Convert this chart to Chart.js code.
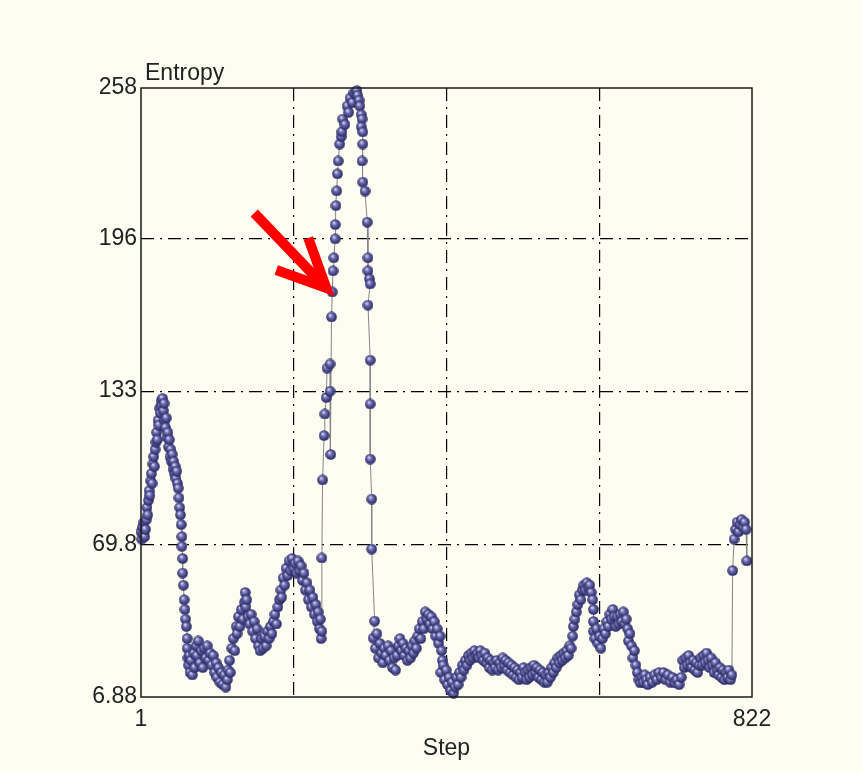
<!DOCTYPE html>
<html>
<head>
<meta charset="utf-8">
<script src="https://cdn.jsdelivr.net/npm/chart.js@4.4.0/dist/chart.umd.min.js"></script>
<style>
    html, body { margin: 0; padding: 0; background: #fdfdf2; }
    #entropy-chart { display: block; }
</style>
</head>
<body>
<canvas id="entropy-chart" width="862" height="772"></canvas>
<script>
// step / entropy pairs (same line = same points)
const steps = [
    1, 2, 3, 4, 5, 6, 7, 8, 9, 10,
    11, 12, 13, 14, 15, 16, 17, 18, 19, 20,
    21, 22, 23, 24, 25, 26, 27, 28, 29, 30,
    31, 32, 33, 34, 35, 36, 37, 38, 39, 40,
    41, 42, 43, 44, 45, 46, 47, 48, 49, 50,
    51, 52, 53, 54, 55, 56, 56, 57, 57, 58,
    59, 60, 61, 62, 63, 63, 64, 65, 66, 67,
    68, 70, 72, 73, 75, 76, 78, 80, 82, 84,
    86, 88, 90, 92, 94, 96, 98, 100, 102, 103,
    105, 107, 109, 111, 113, 115, 117, 118, 120, 121,
    123, 125, 127, 129, 130, 132, 134, 136, 138, 140,
    141, 142, 143, 145, 147, 149, 151, 153, 155, 157,
    159, 161, 163, 165, 167, 169, 171, 173, 175, 177,
    179, 181, 183, 185, 187, 189, 190, 192, 194, 196,
    198, 200, 202, 204, 206, 208, 210, 212, 214, 216,
    218, 220, 222, 224, 226, 228, 230, 232, 234, 236,
    238, 239, 241, 242, 243, 244,
    244, 245, 247, 248, 250, 251, 255, 255, 256, 257,
    258, 259, 260, 262, 262, 263, 264, 265, 266, 268,
    270, 271, 272, 275, 278, 280, 282, 285, 287, 289,
    291, 292, 294, 295, 297, 298, 297, 299, 299, 298,
    299, 302, 305, 306, 306, 308, 309, 306, 309, 309,
    309, 311, 311, 315, 313,
    316, 318, 320, 322, 324, 326, 328, 330, 333, 335,
    337, 339, 341, 343, 345, 347, 349, 351, 353, 355,
    357, 359, 361, 363, 365, 367, 369, 371, 373, 375,
    377, 379, 381, 383, 385, 387, 389, 391, 393, 395,
    397, 399, 401, 403, 405, 406, 404, 407, 409, 411,
    413, 415, 417, 419, 421, 423, 425, 427, 429, 431,
    433, 435, 437, 439, 441, 443, 445, 447, 449, 451,
    453, 455, 457, 459, 461, 463, 465, 467, 469, 471,
    473, 475, 477, 479, 481, 483, 485, 487, 489, 491,
    493, 495, 497, 499, 501, 503, 505, 507, 509, 511,
    513, 515, 517, 519, 521, 523, 525, 527, 529, 531,
    533, 535, 537, 539, 541, 543, 545, 547, 549, 551,
    553, 555, 557, 559, 561, 563, 565, 567, 569, 571,
    573, 575, 577, 579, 581, 582, 584, 586, 588, 590,
    592, 594, 596, 598, 600, 602, 604, 606, 608, 609,
    609, 609, 611, 613, 615, 617, 619, 621, 623, 625,
    627, 629, 631, 633, 635, 637, 639, 641, 643, 645,
    647, 649, 651, 653, 655, 656, 658, 660, 662, 664,
    666, 668, 670, 672, 674, 676, 678, 680, 682, 685,
    688, 691, 694, 697, 700, 703, 706, 709, 712, 715,
    718, 721, 724, 727, 729, 731, 733, 735, 737, 739,
    741, 743, 745, 747, 749, 751, 753, 755, 757, 759,
    761, 763, 765, 767, 769, 771, 773, 775, 777, 779,
    781, 783, 785, 787, 789, 791, 793, 795, 796, 798,
    800, 802, 804, 806, 808, 810, 812, 814, 815
];
const entropy = [
    75, 72, 77, 74, 79, 73, 76, 80, 85, 82,
    88, 92, 90, 96, 99, 95, 103, 106, 102, 109,
    112, 116, 113, 121, 119, 126, 124, 129, 127, 130,
    125, 128, 121, 118, 122, 114, 116, 110, 113, 106,
    109, 104, 107, 101, 104, 99, 102, 97, 100, 95,
    93, 89, 85, 82, 78, 73, 69, 64, 58, 53,
    47, 43, 39, 36, 31, 27, 23, 20, 24, 17,
    22, 16, 25, 19, 28, 24, 30, 21, 26, 19,
    27, 23, 28, 22, 25, 20, 24, 17, 21, 15,
    19, 13, 17, 12, 16, 11, 14, 18, 22, 17,
    27, 31, 26, 36, 33, 40, 36, 43, 39, 46,
    50, 44, 47, 40, 37, 41, 34, 38, 31, 35,
    28, 26, 31, 27, 32, 28, 34, 31, 36, 33,
    38, 41, 37, 44, 47, 51, 48, 56, 53, 60,
    57, 63, 59, 64, 60, 62, 58, 63, 59, 61,
    55, 58, 51, 54, 47, 51, 44, 48, 41, 45,
    38, 42, 35, 39, 31, 34,
    64.2, 96.4, 114.7, 123.6, 130.4, 142.5, 144.2, 133, 106.9, 163.6,
    173.9, 182.6, 188, 195.8, 201.7, 209.5, 215.6, 222.6, 227.9, 234.9,
    238, 240, 245.2, 243, 250.6, 248, 253.9, 252, 256, 255.5,
    257, 255, 253, 250.6, 247, 245.2, 242, 239.9, 234.9, 227.9,
    219.2, 215.5, 202.7, 188, 182.6, 179.3, 177.2, 168.5, 145.8, 127.7,
    105, 88.5, 67.9, 38.2, 31.2,
    27, 33, 23, 29, 25, 21, 27, 24, 28, 22,
    26, 19, 23, 18, 24, 28, 31, 26, 29, 24,
    27, 22, 26, 23, 28, 25, 30, 27, 32, 35,
    31, 38, 35, 42, 39, 41, 37, 40, 35, 38,
    32, 35, 29, 32, 26, 22, 17, 20, 14, 18,
    12, 15, 9.5, 13, 8.5, 11, 15, 12, 17, 15,
    20, 18, 22, 20, 24, 22, 25, 23, 26, 24,
    25, 23, 26, 24, 22, 25, 21, 23, 19, 22,
    18, 21, 19, 22, 18, 21, 19, 23, 20, 22,
    18, 21, 17, 20, 16, 19, 15, 18, 14, 17,
    15, 19, 17, 14, 18, 15, 19, 16, 20, 17,
    19, 15, 18, 14, 17, 13, 16, 13, 17, 15,
    19, 17, 21, 19, 23, 21, 24, 22, 25, 23,
    26, 24, 28, 27, 32, 36, 39, 42, 45, 49,
    47, 51, 53, 51, 54, 52, 53, 50, 47, 43,
    38, 34, 31, 35, 29, 32, 27, 31, 35, 33,
    38, 36, 41, 39, 43, 40, 36, 40, 37, 41,
    38, 42, 37, 39, 35, 30, 33, 28, 23, 26,
    20, 17, 14, 12.7, 15, 13, 16, 14, 12, 15,
    13, 16, 14, 17, 15, 17, 14, 16, 13, 15,
    12.7, 14, 12, 15, 22, 19, 23, 20, 24, 21,
    19, 22, 18, 21, 17, 20, 23, 20, 24, 21,
    25, 22, 19, 23, 20, 17, 21, 18, 16, 19,
    15, 18, 14, 17, 15, 18, 14, 16, 59, 72,
    76, 79, 75, 78, 80, 77, 79, 76, 63
];
const xTickValues = [1, 206.25, 411.5, 616.75, 822];
const xTickLabels = ['1', '', '', '', '822'];
const yTickValues = [6.88, 69.8, 133, 196, 258];
const yTickLabels = ['6.88', '69.8', '133', '196', '258'];
// the point the red arrow points at
const arrowStep = 258;
const arrowValue = 173.9;

const FONT = 'Liberation Sans, Arial, sans-serif';
const BG = '#fdfdf2';

// small shaded ball used as the point marker
const sphere = document.createElement('canvas');
sphere.width = 11;
sphere.height = 11;
const sctx = sphere.getContext('2d');
const grad = sctx.createRadialGradient(4, 3.6, 0.4, 5.5, 5.5, 5.5);
grad.addColorStop(0, '#d4d4f6');
grad.addColorStop(0.35, '#7070b0');
grad.addColorStop(0.75, '#3d3d80');
grad.addColorStop(1, '#252550');
sctx.fillStyle = grad;
sctx.beginPath();
sctx.arc(5.5, 5.5, 5.3, 0, Math.PI * 2);
sctx.fill();

const points = steps.map(function(s, i) {
    return { x: s, y: entropy[i] };
});

function edgeGrid(ctx) {
    const v = ctx.tick ? ctx.tick.value : null;
    const s = ctx.scale;
    if (v === null || v <= s.min + 1e-6 || v >= s.max - 1e-6) return 'rgba(0,0,0,0)';
    return '#000000';
}

new Chart(document.getElementById('entropy-chart'), {
    type: 'scatter',
    data: {
        datasets: [{
            data: points,
            showLine: true,
            borderColor: '#858585',
            borderWidth: 1,
            pointStyle: sphere,
            pointRadius: 5.5,
            clip: false,
        }]
    },
    options: {
        responsive: false,
        animation: false,
        events: [],
        layout: {
            padding: { top: 88, right: 110, bottom: 0, left: 0 }
        },
        plugins: {
            legend: { display: false },
            tooltip: { enabled: false }
        },
        scales: {
            x: {
                type: 'linear',
                min: 1,
                max: 822,
                afterBuildTicks: function(scale) {
                    scale.ticks = xTickValues.map(function(v) { return { value: v }; });
                },
                afterFit: function(scale) { scale.height = 75; },
                ticks: {
                    autoSkip: false,
                    maxRotation: 0,
                    padding: 9,
                    color: '#222222',
                    font: { family: FONT, size: 23 },
                    callback: function(v, i) { return xTickLabels[i]; }
                },
                grid: { color: edgeGrid, lineWidth: 1.2, drawTicks: false },
                border: { display: false, dash: [13, 6, 2, 6] },
                title: {
                    display: true,
                    text: 'Step',
                    color: '#222222',
                    font: { family: FONT, size: 23 },
                    padding: { top: 0, bottom: 10 }
                }
            },
            y: {
                min: 6.88,
                max: 258,
                afterBuildTicks: function(scale) {
                    scale.ticks = yTickValues.map(function(v) { return { value: v }; });
                },
                afterFit: function(scale) { scale.width = 141; },
                ticks: {
                    autoSkip: false,
                    padding: 4,
                    color: '#222222',
                    font: { family: FONT, size: 23 },
                    callback: function(v, i) { return yTickLabels[i]; }
                },
                grid: { color: edgeGrid, lineWidth: 1.2, drawTicks: false },
                border: { display: false, dash: [13, 6, 2, 6] }
            }
        }
    },
    plugins: [{
        id: 'background',
        beforeDraw: function(chart) {
            const ctx = chart.ctx;
            ctx.save();
            ctx.fillStyle = BG;
            ctx.fillRect(0, 0, chart.width, chart.height);
            ctx.restore();
        }
    }, {
        id: 'frameAndArrow',
        afterDatasetsDraw: function(chart) {
            const ctx = chart.ctx;
            const a = chart.chartArea;
            ctx.save();
            // box around the plot
            ctx.strokeStyle = '#1a1a1a';
            ctx.lineWidth = 1.5;
            ctx.strokeRect(a.left, a.top, a.right - a.left, a.bottom - a.top);

            // y axis name in the top left corner
            ctx.fillStyle = '#222222';
            ctx.font = '23px ' + FONT;
            ctx.textAlign = 'left';
            ctx.textBaseline = 'alphabetic';
            ctx.fillText('Entropy', a.left + 4, a.top - 8);

            // red arrow pointing at one point of the rising edge
            const tx = chart.scales.x.getPixelForValue(arrowStep) - 6;
            const ty = chart.scales.y.getPixelForValue(arrowValue) - 4;
            ctx.strokeStyle = '#ff0000';
            ctx.lineWidth = 10;
            ctx.lineJoin = 'miter';
            ctx.lineCap = 'butt';
            ctx.beginPath();
            ctx.moveTo(tx - 72, ty - 75);
            ctx.lineTo(tx - 6, ty - 6);
            ctx.stroke();
            ctx.beginPath();
            ctx.moveTo(tx - 50, ty - 18);
            ctx.lineTo(tx, ty);
            ctx.lineTo(tx - 18, ty - 50);
            ctx.stroke();
            ctx.restore();
        }
    }]
});
</script>
</body>
</html>
